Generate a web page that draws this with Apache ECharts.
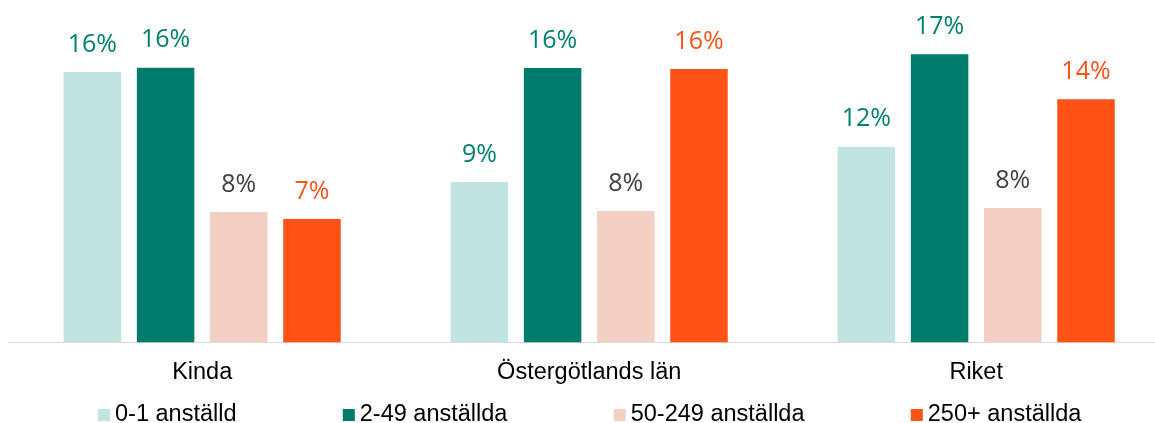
<!DOCTYPE html>
<html>
<head>
<meta charset="utf-8">
<script src="https://cdn.jsdelivr.net/npm/echarts@6/dist/echarts.min.js"></script>
<style>
html,body{margin:0;padding:0;background:#fff;overflow:hidden;width:1155px;height:423px;}
#chart{width:1170px;height:423px;}
</style>
</head>
<body>
<div id="chart"></div>
<script>
var categories = ['Kinda', 'Östergötlands län', 'Riket'];
var seriesNames = ['0-1 anställd', '2-49 anställda', '50-249 anställda', '250+ anställda'];
var values01 = [15.95, 9.46, 11.54];
var values249 = [16.2, 16.18, 16.99];
var values50249 = [7.69, 7.75, 7.92];
var values250 = [7.27, 16.12, 14.34];

var barColors = ['#C1E4E0', '#007C6D', '#F4CFC4', '#FF5217'];
var labelColors = ['#00806F', '#00806F', '#404040', '#FF5217'];
var allValues = [values01, values249, values50249, values250];

var chart = echarts.init(document.getElementById('chart'));
var series = allValues.map(function (vals, i) {
  return {
    name: seriesNames[i],
    type: 'bar',
    data: vals,
    barWidth: 57.5,
    barGap: '27.3%',
    itemStyle: { color: barColors[i] },
    label: {
      show: true,
      position: 'top',
      distance: 15,
      color: labelColors[i],
      fontFamily: 'Open Sans',
      fontSize: 25,
      formatter: function (p) { return Math.round(p.value) + '%'; }
    }
  };
});

chart.setOption({
  animation: false,
  legend: {
    data: seriesNames,
    left: 98,
    top: 403,
    padding: 0,
    itemWidth: 12,
    itemHeight: 12,
    itemGap: 106.3,
    icon: 'rect',
    textStyle: { fontFamily: 'Liberation Sans', fontSize: 23.5, color: '#000' }
  },
  grid: { left: 8.7, top: 3.3, width: 1161, height: 339 },
  xAxis: {
    type: 'category',
    data: categories,
    axisLine: { lineStyle: { color: '#D9D9D9', width: 1 } },
    axisTick: { show: false },
    axisLabel: { fontFamily: 'Liberation Sans', fontSize: 23.5, color: '#000', margin: 18 }
  },
  yAxis: {
    type: 'value',
    min: 0,
    max: 20,
    show: false,
    splitLine: { show: false }
  },
  series: series
});
</script>
</body>
</html>
